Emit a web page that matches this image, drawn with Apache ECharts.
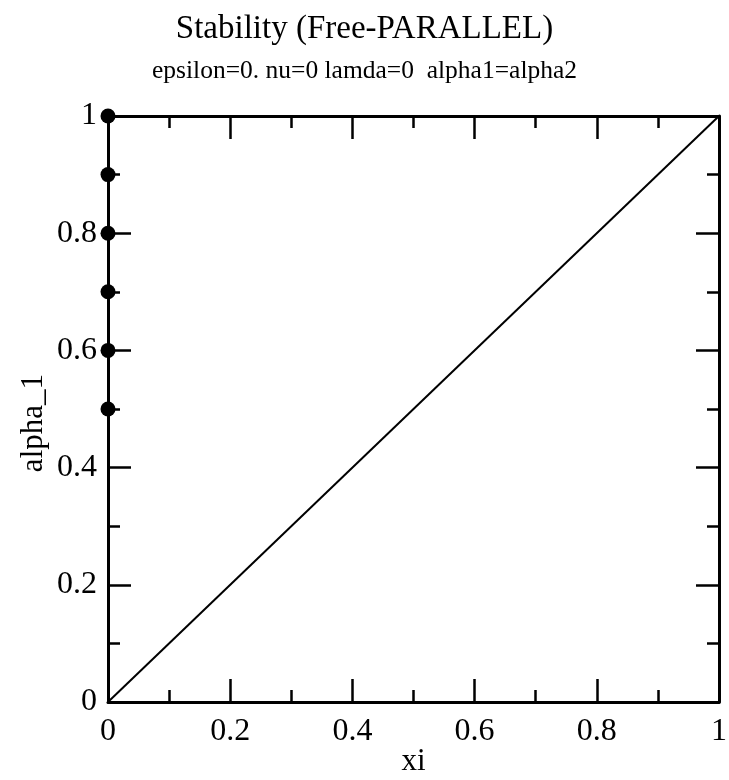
<!DOCTYPE html>
<html>
<head>
<meta charset="utf-8">
<script src="https://cdn.jsdelivr.net/npm/echarts@6/dist/echarts.min.js"></script>
<style>
    html, body { margin: 0; padding: 0; background: #fff; }
    #chart { width: 729px; height: 780px; }
</style>
</head>
<body>
<div id="chart"></div>
<script>
// data
var lineX = [0, 1];
var lineY = [0, 1];
var dotX = [0, 0, 0, 0, 0, 0];
var dotY = [0.5, 0.6, 0.7, 0.8, 0.9, 1.0];

var titleText = 'Stability (Free-PARALLEL)';
var subText = 'epsilon=0. nu=0 lamda=0  alpha1=alpha2';
var xName = 'xi';
var yName = 'alpha_1';

var font = 'Liberation Serif';

function frameAxis(pos, showLabels) {
    return {
        type: 'value',
        position: pos,
        min: 0,
        max: 1,
        interval: 0.2,
        axisLine: { show: true, onZero: false, lineStyle: { color: '#000', width: 3 } },
        axisTick: { show: true, inside: true, length: 23, lineStyle: { color: '#000', width: 2.5 } },
        minorTick: { show: true, splitNumber: 2, length: 12, lineStyle: { color: '#000', width: 2.5 } },
        splitLine: { show: false },
        axisLabel: {
            show: showLabels,
            color: '#000',
            fontFamily: font,
            fontSize: 32
        }
    };
}

var chart = echarts.init(document.getElementById('chart'));

var xMain = frameAxis('bottom', true);
xMain.axisLabel.margin = 14;
xMain.name = xName;
xMain.nameLocation = 'middle';
xMain.nameGap = 44;
xMain.nameMoveOverlap = false;
xMain.nameTextStyle = { color: '#000', fontFamily: font, fontSize: 31 };

var yMain = frameAxis('left', true);
yMain.axisLabel.margin = 11;

var lineData = lineX.map(function (x, i) { return [x, lineY[i]]; });
var dotData = dotX.map(function (x, i) { return [x, dotY[i]]; });

var option = {
    backgroundColor: '#fff',
    animation: false,
    title: {
        text: titleText,
        subtext: subText,
        left: 'center',
        top: 8,
        itemGap: 12,
        textStyle: { color: '#000', fontFamily: font, fontSize: 33, fontWeight: 'normal' },
        subtextStyle: { color: '#000', fontFamily: font, fontSize: 25.5 }
    },
    grid: {
        left: 108, right: 10, top: 116, bottom: 78,
        containLabel: false,
        outerBoundsMode: 'none'
    },
    xAxis: [xMain, frameAxis('top', false)],
    yAxis: [yMain, frameAxis('right', false)],
    graphic: [{
        type: 'text',
        left: 18,
        top: 374,
        rotation: Math.PI / 2,
        style: { text: yName, fill: '#000', font: '31px "Liberation Serif"' }
    }],
    series: [{
        type: 'line',
        data: lineData,
        showSymbol: false,
        lineStyle: { color: '#000', width: 2 }
    }, {
        type: 'scatter',
        data: dotData,
        symbol: 'circle',
        symbolSize: 15,
        clip: false,
        itemStyle: { color: '#000', opacity: 1 }
    }]
};

chart.setOption(option);
</script>
</body>
</html>
